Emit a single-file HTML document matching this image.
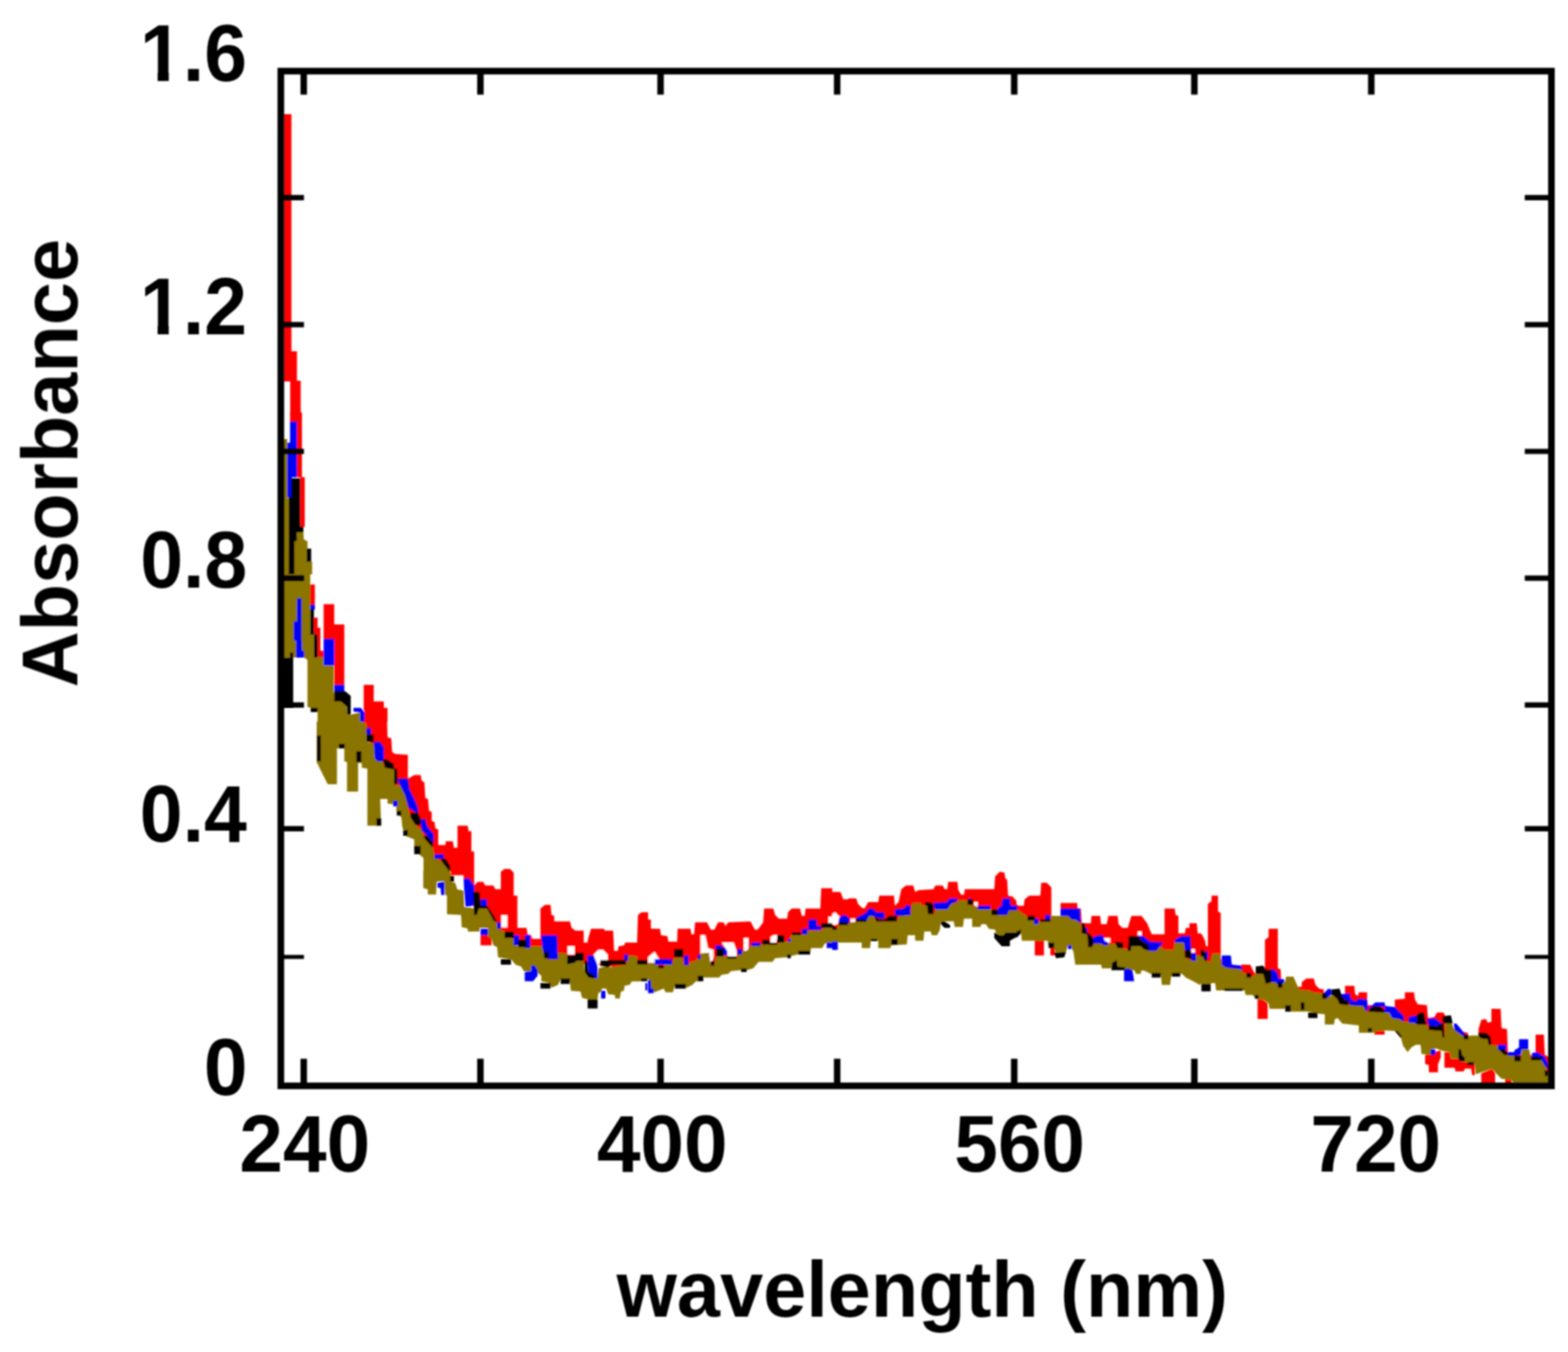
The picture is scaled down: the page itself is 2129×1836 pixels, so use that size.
<!DOCTYPE html>
<html lang="en">
<head>
<meta charset="utf-8">
<title>Absorbance vs wavelength (nm)</title>
<style>
html,body{margin:0;padding:0;background:#fff;}
body{width:2129px;height:1836px;overflow:hidden;}
svg{display:block;}
text{font-family:"Liberation Sans","Arial","Helvetica",sans-serif;font-weight:700;fill:#000;}
.tl{font-size:109.5px;}
.tt{font-size:107px;}
</style>
</head>
<body>
<svg width="2129" height="1836" viewBox="0 0 2129 1836" role="img" aria-label="Absorbance versus wavelength (nm) for four spectra">
<rect x="0" y="0" width="2129" height="1836" fill="#ffffff"/>
<defs>
<filter id="soft" x="-2%" y="-2%" width="104%" height="104%"><feGaussianBlur stdDeviation="1.3"/></filter>
<filter id="soft2" x="-2%" y="-2%" width="104%" height="104%"><feGaussianBlur stdDeviation="1"/></filter>
<filter id="soft3" x="-5%" y="-5%" width="110%" height="110%"><feGaussianBlur stdDeviation="0.9"/></filter>
<clipPath id="one"><rect x="-5" y="-109.5" width="170" height="97.0"/><rect x="25.1" y="-13.2" width="15.9" height="15.2"/><rect x="60.9" y="-13.2" width="110" height="18.2"/></clipPath>
</defs>
<defs><clipPath id="c0"><rect x="370" y="100" width="270" height="460"/></clipPath><clipPath id="c1"><rect x="370" y="560" width="270" height="220"/></clipPath><clipPath id="c2"><rect x="370" y="780" width="270" height="200"/></clipPath><clipPath id="c3"><rect x="400" y="980" width="240" height="203"/></clipPath><clipPath id="c4"><rect x="640" y="1100" width="240" height="280"/></clipPath><clipPath id="c5"><rect x="880" y="1100" width="250" height="300"/></clipPath><clipPath id="c6"><rect x="1130" y="1050" width="250" height="350"/></clipPath><clipPath id="c7"><rect x="1380" y="1050" width="250" height="400"/></clipPath><clipPath id="c8"><rect x="1630" y="1100" width="250" height="400"/></clipPath><clipPath id="c9"><rect x="1880" y="1200" width="224" height="274"/></clipPath><clipPath id="c10"><rect x="540" y="1183" width="100" height="117"/></clipPath></defs>
<g id="curves" filter="url(#soft)">
<g clip-path="url(#c0)">
<path fill="#ff0000" d="M384.5 155.0L395.7 155.0L395.7 478.0L384.5 478.0ZM384.5 477.0L403.2 477.0L403.2 518.0L384.5 518.0ZM394.0 517.0L408.3 517.0L408.3 573.0L394.0 573.0Z"/>
</g>
<g clip-path="url(#c1)">
<path fill="#ff0000" d="M393.8 560.0L410.0 560.0L410.0 573.1L393.8 573.1ZM403.1 572.5L410.0 572.5L410.0 648.1L403.1 648.1ZM407.5 648.1L413.8 648.1L413.8 715.6L407.5 715.6Z"/>
<path fill="#8a7400" d="M381.9 596.2L390.0 596.2L390.0 676.9L381.9 676.9ZM381.9 676.2L391.9 676.2L391.9 747.5L381.9 747.5ZM381.9 747.5L394.4 747.5L394.4 783.0L381.9 783.0ZM403.1 722.5L411.9 722.5L412.5 732.5L417.5 735.0L417.5 745.0L416.2 745.0L416.2 762.5L423.8 762.5L423.8 783.0L399.4 783.0L399.4 735.0L403.1 728.8Z"/>
<path fill="#0000f5" d="M393.8 572.5L403.1 572.5L403.1 601.9L393.8 601.9ZM390.0 601.2L403.1 601.2L403.1 648.1L390.0 648.1ZM390.0 647.5L396.2 647.5L396.2 675.6L390.0 675.6Z"/>
<path fill="#000000" d="M395.6 649.4L407.5 649.4L407.5 675.6L395.6 675.6ZM391.9 675.0L407.5 675.0L407.5 715.6L391.9 715.6ZM391.9 715.0L411.9 715.0L411.9 723.1L391.9 723.1ZM391.9 722.5L403.1 722.5L403.1 735.0L391.9 735.0ZM391.9 735.0L400.0 735.0L400.0 783.0L391.9 783.0ZM416.2 745.0L422.5 745.0L422.5 763.1L416.2 763.1Z"/>
</g>
<g clip-path="url(#c2)">
<path fill="#ff0000" d="M420.0 793.8L427.5 793.8L427.5 821.9L420.0 821.9ZM426.2 838.8L431.2 838.8L431.2 852.5L435.0 852.5L435.0 883.8L439.4 883.8L439.4 895.0L431.2 895.0L431.2 861.2L426.2 861.2ZM439.4 820.6L453.8 820.6L453.8 868.1L439.4 868.1ZM453.8 848.1L467.5 848.1L467.5 930.6L453.8 930.6ZM493.8 930.0L507.5 930.0L507.5 952.5L521.2 952.5L521.2 961.2L526.2 961.2L526.2 1003.0L498.8 1003.0L498.8 980.0L495.0 980.0L495.0 965.0L493.8 965.0Z"/>
<path fill="#8a7400" d="M381.9 780.0L421.2 780.0L421.2 860.6L426.2 860.6L426.2 892.5L439.4 892.5L439.4 903.8L453.1 903.8L453.1 940.6L462.5 952.5L471.2 960.0L471.2 970.6L476.2 970.6L488.8 967.5L488.8 980.0L495.0 980.0L497.5 990.0L497.5 998.1L500.0 998.1L500.0 1003.0L435.6 1003.0L435.6 998.1L431.2 998.1L431.2 966.9L421.9 966.9L421.9 961.2L417.5 960.0L417.5 896.2L412.5 892.5L393.8 893.1L381.9 893.1Z"/>
<path fill="#0000f5" d="M421.2 821.2L427.5 821.2L427.5 828.1L421.2 828.1ZM439.4 867.5L453.8 867.5L453.8 903.8L439.4 903.8ZM453.8 930.0L467.5 930.0L467.5 940.0L453.8 940.0ZM480.0 961.2L490.0 961.2L495.0 967.5L495.0 980.0L488.8 980.0L488.8 967.5L480.0 966.2ZM497.5 990.0L503.8 990.0L503.8 998.1L497.5 998.1ZM403.1 812.5L409.4 812.5L409.4 845.0L403.1 845.0ZM398.8 843.8L409.4 843.8L409.4 870.0L398.8 870.0ZM401.9 870.0L410.0 870.0L410.0 892.5L401.9 892.5ZM401.9 883.8L413.1 883.8L413.1 893.1L401.9 893.1Z"/>
<path fill="#000000" d="M381.9 893.1L398.1 893.1L398.1 960.6L381.9 960.6ZM393.8 886.2L398.1 886.2L398.1 893.8L393.8 893.8ZM421.2 827.5L426.2 827.5L426.2 861.9L421.2 861.9ZM426.2 861.2L431.2 861.2L431.2 893.1L426.2 893.1ZM453.8 938.8L468.8 938.8L476.2 945.0L476.2 970.6L471.2 970.6L471.2 960.0L462.5 952.5L453.8 952.5ZM421.9 961.2L431.2 961.2L431.2 966.9L421.9 966.9ZM431.2 998.1L435.6 998.1L435.6 1003.0L431.2 1003.0ZM500.0 998.1L507.5 998.1L507.5 1003.0L500.0 1003.0Z"/>
</g>
<g clip-path="url(#c3)">
<path fill="#ff0000" d="M492.5 960.0L525.0 960.0L526.2 1001.2L531.2 1002.5L532.5 1021.2L536.2 1023.8L553.8 1025.0L553.8 1057.5L562.5 1052.5L571.2 1052.5L572.5 1060.0L576.2 1062.5L577.5 1083.8L581.2 1085.0L582.5 1101.2L586.2 1102.5L586.2 1115.0L590.0 1116.2L591.2 1125.0L595.0 1126.2L595.0 1147.5L605.0 1147.5L605.0 1142.5L615.0 1142.5L616.2 1151.2L621.2 1151.2L621.2 1121.2L635.0 1121.2L636.2 1128.8L640.0 1128.8L640.0 1156.2L643.8 1157.5L645.0 1183.0L587.5 1183.0L550.0 1110.0L512.5 1035.0L487.5 972.5Z"/>
<path fill="#8a7400" d="M418.8 960.0L477.5 960.0L477.5 967.5L487.5 967.5L490.0 980.0L497.5 982.5L497.5 1007.5L507.5 1010.0L508.8 1030.0L520.0 1035.0L522.5 1042.5L535.0 1045.0L535.0 1065.0L543.8 1067.5L550.0 1080.0L553.8 1097.5L557.5 1110.0L563.8 1120.0L572.5 1127.5L577.5 1140.0L587.5 1150.0L590.0 1165.0L600.0 1170.0L610.0 1183.0L575.0 1183.0L575.0 1165.0L562.5 1155.0L562.5 1140.0L550.0 1135.0L546.2 1122.5L545.0 1110.0L538.8 1103.8L537.5 1092.5L526.2 1091.2L526.2 1085.0L516.2 1085.0L517.5 1121.2L498.8 1121.2L498.8 1043.8L491.2 1042.5L491.2 1036.2L486.2 1036.2L486.2 1075.0L471.2 1075.0L471.2 1035.0L467.5 1033.8L467.5 1016.2L457.5 1016.2L457.5 1065.0L445.0 1065.0L436.2 1047.5L430.0 1035.0L430.0 967.5Z"/>
<path fill="#0000f5" d="M481.2 962.5L490.0 962.5L495.0 967.5L495.0 980.0L490.0 980.0L487.5 967.5L481.2 967.5ZM497.5 988.8L503.8 988.8L503.8 997.5L497.5 997.5ZM507.5 1007.5L516.2 1007.5L521.2 1015.0L521.2 1033.8L512.5 1033.8L508.8 1030.0ZM538.8 1057.5L553.8 1057.5L556.2 1072.5L562.5 1085.0L567.5 1097.5L567.5 1105.0L555.0 1097.5L550.0 1080.0L543.8 1067.5ZM533.8 1087.5L540.0 1087.5L540.0 1095.0L533.8 1095.0ZM571.2 1112.5L577.5 1112.5L580.0 1122.5L588.8 1132.5L588.8 1145.0L580.0 1135.0L572.5 1127.5ZM590.0 1160.0L602.5 1160.0L602.5 1166.2L590.0 1166.2Z"/>
<path fill="#000000" d="M421.9 961.2L430.0 961.2L430.0 966.2L421.9 966.2ZM430.6 998.8L435.6 998.8L435.6 1033.8L430.6 1033.8ZM460.0 1010.0L468.1 1010.0L468.1 1016.2L460.0 1016.2ZM483.8 1020.0L490.6 1020.0L490.6 1035.0L483.8 1035.0ZM470.0 960.0L476.2 960.0L476.2 971.2L470.0 971.2ZM497.5 997.5L507.5 997.5L507.5 1007.5L497.5 1007.5ZM520.0 1031.2L525.0 1031.2L535.0 1037.5L535.0 1045.0L522.5 1042.5ZM535.0 1043.8L539.4 1043.8L539.4 1065.0L535.0 1065.0ZM511.2 1111.2L517.5 1111.2L517.5 1121.2L511.2 1121.2ZM538.8 1101.2L545.0 1101.2L545.0 1107.5L538.8 1107.5ZM547.5 1127.5L553.8 1127.5L553.8 1135.0L547.5 1135.0ZM557.5 1103.8L567.5 1103.8L571.2 1112.5L571.2 1121.2L563.8 1120.0L557.5 1110.0ZM575.0 1135.0L580.0 1135.0L587.5 1143.8L587.5 1151.2L577.5 1140.0ZM562.5 1148.8L571.2 1148.8L571.2 1160.0L562.5 1160.0ZM598.8 1166.2L605.0 1166.2L611.2 1175.0L611.2 1183.0L610.0 1183.0L600.0 1170.0Z"/>
</g>
<g clip-path="url(#c4)">
<path fill="#ff0000" d="M595.0 1117.5L638.8 1117.5L638.8 1156.2L643.8 1156.2L643.8 1202.5L648.8 1197.5L656.2 1197.5L658.8 1202.5L670.0 1202.5L672.5 1207.5L680.0 1207.5L680.0 1183.8L685.0 1180.0L692.5 1180.0L697.5 1185.0L697.5 1216.2L702.5 1216.2L702.5 1260.0L715.0 1260.0L716.2 1268.8L721.2 1270.0L722.5 1275.0L733.8 1275.0L733.8 1233.8L740.0 1228.8L747.5 1228.8L748.8 1242.5L752.5 1243.8L752.5 1251.2L773.8 1251.2L776.2 1260.0L781.2 1263.8L792.5 1263.8L792.5 1280.0L797.5 1280.0L798.8 1273.8L802.5 1261.2L820.0 1261.2L821.2 1263.8L832.5 1263.8L833.8 1291.2L838.8 1291.2L840.0 1285.0L847.5 1283.8L848.8 1280.0L865.0 1280.0L866.2 1242.5L871.2 1238.8L882.5 1238.8L882.5 1317.5L745.0 1305.0L682.5 1267.5L630.0 1217.5L630.0 1188.8L595.0 1188.8ZM652.5 1270.0L667.5 1270.0L667.5 1283.8L652.5 1283.8Z"/>
<path fill="#ffffff" d="M680.6 1243.1L688.8 1243.1L688.8 1259.4L680.6 1259.4ZM770.6 1285.0L780.0 1285.0L780.0 1296.2L770.6 1296.2ZM806.2 1296.2L812.5 1290.0L818.8 1290.0L825.0 1296.2L825.0 1305.0L815.0 1305.0L812.5 1312.5L806.2 1305.0Z"/>
<path fill="#8a7400" d="M595.0 1207.5L631.2 1207.5L631.2 1232.5L645.0 1233.8L645.0 1242.5L650.0 1233.8L661.2 1233.8L666.2 1242.5L670.0 1250.0L676.2 1255.0L676.2 1261.2L685.0 1265.0L685.0 1272.5L697.5 1275.0L700.0 1283.8L715.0 1286.2L716.2 1288.8L721.2 1285.0L736.2 1285.0L738.8 1297.5L743.8 1302.5L757.5 1302.5L757.5 1293.8L770.0 1295.0L770.0 1310.0L780.0 1307.5L782.5 1305.0L792.5 1305.0L793.8 1320.0L798.8 1327.5L811.2 1328.8L812.5 1315.0L825.0 1311.2L827.5 1313.8L850.0 1310.0L853.8 1297.5L865.0 1298.8L866.2 1310.0L882.5 1310.0L882.5 1329.0L871.2 1329.0L869.2 1332.8L857.8 1332.8L854.9 1337.6L848.1 1338.6L847.1 1345.4L843.2 1346.4L841.4 1356.0L835.6 1356.0L834.6 1351.1L825.9 1350.2L823.0 1342.5L817.2 1342.5L816.2 1347.2L812.4 1348.2L811.4 1357.0L797.9 1357.0L790.2 1355.0L788.2 1346.4L775.8 1345.4L775.0 1345.0L773.8 1332.5L761.2 1330.0L757.5 1337.5L748.8 1341.2L746.2 1335.0L735.0 1332.5L735.0 1325.0L730.0 1321.2L727.5 1315.0L721.2 1312.5L721.2 1320.0L711.2 1318.8L707.5 1312.5L700.0 1310.0L693.8 1302.5L676.2 1300.0L675.0 1286.2L670.0 1283.8L667.5 1275.0L662.5 1271.2L662.5 1260.0L651.2 1260.0L651.2 1265.0L636.2 1265.0L636.2 1260.0L626.2 1258.8L626.2 1242.5L595.0 1242.5Z"/>
<path fill="#0000f5" d="M630.0 1193.8L636.2 1193.8L643.8 1202.5L643.8 1217.5L642.5 1230.0L632.5 1230.0L631.2 1207.5L630.0 1207.5ZM652.5 1221.2L661.2 1221.2L661.2 1230.0L652.5 1230.0ZM675.0 1252.5L680.0 1252.5L680.0 1261.2L675.0 1261.2ZM652.5 1261.2L662.5 1261.2L662.5 1270.0L652.5 1270.0ZM697.5 1270.0L705.0 1270.0L705.0 1283.8L697.5 1283.8ZM712.5 1270.0L720.0 1270.0L720.0 1287.5L712.5 1287.5ZM735.0 1270.0L756.2 1270.0L757.5 1302.5L743.8 1302.5L738.8 1297.5L736.2 1285.0ZM721.2 1311.2L726.2 1311.2L730.0 1317.5L730.0 1325.0L723.8 1332.5L712.5 1332.5L712.5 1320.0L721.2 1318.8ZM797.5 1297.5L806.2 1297.5L811.2 1310.0L811.2 1328.8L807.5 1328.8L798.8 1320.0ZM847.5 1296.2L852.5 1296.2L852.5 1305.0L847.5 1305.0ZM816.2 1345.4L822.0 1345.4L822.0 1356.0L816.2 1356.0ZM876.2 1335.0L879.0 1335.0L879.0 1345.0L876.2 1345.0Z"/>
<path fill="#000000" d="M797.9 1357.0L811.4 1357.0L811.4 1369.5L797.9 1369.5ZM642.5 1211.2L651.2 1211.2L652.5 1230.0L661.2 1230.0L670.0 1242.5L675.0 1252.5L670.0 1250.0L666.2 1242.5L661.2 1233.8L650.0 1233.8L647.5 1242.5L643.8 1242.5ZM685.0 1265.0L697.5 1265.0L697.5 1273.8L685.0 1273.8ZM703.8 1276.2L715.0 1276.2L715.0 1286.2L703.8 1286.2ZM680.0 1302.5L693.8 1302.5L693.8 1310.0L680.0 1310.0ZM733.8 1335.0L747.5 1335.0L747.5 1342.5L733.8 1342.5ZM761.2 1328.8L773.8 1328.8L773.8 1336.2L761.2 1336.2ZM738.8 1292.5L745.0 1292.5L745.0 1301.2L738.8 1301.2ZM770.0 1297.5L780.0 1297.5L782.5 1293.8L792.5 1293.8L792.5 1305.0L782.5 1305.0L780.0 1307.5L770.0 1310.0ZM793.8 1305.0L797.5 1305.0L798.8 1320.0L807.5 1325.0L807.5 1328.8L798.8 1327.5L793.8 1320.0ZM815.0 1303.8L850.0 1303.8L850.0 1310.0L830.0 1310.0L826.2 1313.8L815.0 1311.2ZM865.0 1303.8L879.0 1303.8L879.0 1310.0L865.0 1310.0ZM870.0 1328.8L879.0 1328.8L879.0 1332.5L870.0 1332.5Z"/>
</g>
<g clip-path="url(#c5)">
<path fill="#ff0000" d="M857.5 1238.8L870.0 1238.8L878.8 1238.8L878.8 1248.8L883.8 1248.8L883.8 1261.2L896.2 1261.2L897.5 1270.0L906.2 1271.2L907.5 1278.8L919.4 1278.8L920.0 1261.2L937.5 1261.2L938.8 1268.8L942.5 1268.8L943.8 1252.5L960.0 1252.5L965.0 1262.5L970.0 1262.5L975.0 1252.5L982.5 1252.5L985.0 1257.5L988.8 1252.5L1018.8 1251.2L1025.0 1262.5L1028.8 1262.5L1036.2 1252.5L1037.5 1233.8L1050.0 1233.8L1052.5 1242.5L1057.5 1247.5L1068.8 1247.5L1070.0 1238.8L1075.0 1233.8L1086.2 1233.8L1088.8 1243.8L1092.5 1243.8L1093.8 1233.8L1113.8 1233.8L1115.0 1206.2L1129.0 1206.2L1145.0 1206.2L1145.0 1270.6L1129.0 1270.6L1105.5 1275.6L1081.9 1283.2L1058.4 1290.4L1034.8 1294.4L1011.3 1304.6L987.7 1310.9L964.2 1316.5L940.6 1321.3L917.1 1319.7L893.5 1328.5L870.0 1320.0L857.5 1320.0Z"/>
<path fill="#ffffff" d="M875.0 1303.8L888.8 1292.5L895.0 1302.5L895.0 1307.5L875.0 1308.8ZM951.2 1270.0L957.5 1270.0L961.2 1287.5L968.8 1290.0L968.8 1300.0L965.0 1311.2L962.5 1293.8L951.2 1295.0ZM980.0 1280.0L996.2 1280.0L1000.0 1291.2L1000.0 1300.0L988.8 1300.0L985.0 1287.5ZM1010.0 1273.8L1016.2 1273.8L1016.2 1291.2L1010.0 1291.2ZM1046.2 1280.0L1046.2 1272.5L1050.0 1270.0L1056.2 1270.0L1053.8 1280.0ZM1125.0 1245.0L1132.5 1245.0L1132.5 1253.8L1125.0 1253.8Z"/>
<path fill="#8a7400" d="M857.5 1310.0L870.0 1310.0L877.5 1310.0L880.0 1307.5L891.2 1307.5L895.0 1313.8L901.2 1313.8L902.5 1310.0L912.5 1310.0L915.0 1301.2L926.2 1300.0L928.8 1311.2L935.0 1311.2L937.5 1306.2L945.0 1305.0L951.2 1295.0L962.5 1293.8L965.0 1311.2L970.0 1310.0L972.5 1298.8L987.5 1298.8L988.8 1301.2L1000.0 1301.2L1005.0 1292.5L1013.8 1291.2L1018.8 1285.0L1032.5 1283.8L1035.0 1282.5L1055.0 1282.5L1060.0 1278.8L1070.0 1278.8L1075.0 1270.0L1090.0 1270.0L1097.5 1263.8L1115.0 1263.8L1118.8 1260.0L1129.0 1260.0L1145.0 1260.0L1145.0 1281.2L1129.0 1281.2L1120.0 1281.2L1116.2 1287.5L1101.2 1287.5L1100.0 1295.0L1082.5 1296.2L1067.5 1300.0L1052.5 1301.2L1048.8 1306.2L1030.0 1306.2L1022.5 1315.0L1013.8 1317.5L1006.2 1317.5L992.5 1318.8L988.8 1322.5L980.0 1323.8L976.2 1327.5L955.0 1327.5L950.0 1332.5L945.0 1332.5L940.0 1337.5L932.5 1341.2L920.0 1341.2L916.2 1337.5L913.8 1347.5L903.8 1347.5L901.2 1342.5L895.0 1345.0L888.8 1347.5L878.8 1345.0L878.8 1330.0L870.0 1330.0L857.5 1330.0Z"/>
<path fill="#0000f5" d="M888.8 1302.5L912.5 1302.5L912.5 1310.0L888.8 1310.0ZM928.8 1297.5L935.0 1297.5L935.0 1310.6L928.8 1310.6ZM947.5 1296.2L951.2 1296.2L951.2 1302.5L947.5 1302.5ZM971.2 1283.8L980.0 1283.8L980.0 1288.8L971.2 1288.8ZM980.0 1286.2L983.8 1286.2L987.5 1291.2L987.5 1296.9L982.5 1296.9L980.0 1290.0ZM1001.2 1288.8L1007.5 1288.8L1007.5 1296.2L1001.2 1296.2ZM1020.0 1280.0L1032.5 1280.0L1032.5 1284.4L1020.0 1284.4ZM1070.0 1275.0L1073.8 1275.0L1073.8 1278.8L1070.0 1278.8ZM1088.8 1261.2L1096.2 1261.2L1096.2 1268.8L1088.8 1268.8ZM1097.5 1248.8L1108.8 1248.8L1108.8 1263.1L1097.5 1263.1ZM1108.8 1257.5L1115.0 1257.5L1115.0 1263.1L1108.8 1263.1ZM878.8 1331.2L883.8 1331.2L883.8 1342.5L887.5 1342.5L887.5 1348.8L878.8 1348.8ZM1122.5 1280.0L1132.5 1280.0L1132.5 1287.5L1122.5 1287.5Z"/>
<path fill="#000000" d="M870.0 1305.0L877.5 1305.0L877.5 1310.6L870.0 1310.6ZM915.0 1288.8L927.5 1288.8L927.5 1300.0L915.0 1300.0ZM893.8 1311.2L901.2 1311.2L901.2 1315.0L893.8 1315.0ZM972.5 1288.8L982.5 1288.8L982.5 1298.8L972.5 1298.8ZM987.5 1298.8L1000.0 1298.8L1000.0 1301.9L987.5 1301.9ZM965.0 1305.0L970.0 1305.0L970.0 1311.2L965.0 1311.2ZM1035.0 1276.2L1045.0 1276.2L1045.0 1282.5L1035.0 1282.5ZM1045.0 1280.0L1055.0 1280.0L1055.0 1283.1L1045.0 1283.1ZM1055.0 1270.0L1065.0 1270.0L1065.0 1280.0L1055.0 1280.0ZM1075.0 1266.2L1087.5 1266.2L1087.5 1270.0L1075.0 1270.0ZM1115.0 1253.8L1132.5 1253.8L1132.5 1260.0L1115.0 1260.0ZM947.5 1325.0L955.0 1325.0L955.0 1332.5L947.5 1332.5ZM916.2 1336.2L931.2 1336.2L931.2 1342.5L916.2 1342.5ZM1006.2 1315.0L1013.8 1315.0L1013.8 1320.0L1006.2 1320.0ZM1068.8 1296.2L1073.8 1296.2L1073.8 1301.2L1068.8 1301.2ZM1083.8 1291.2L1100.0 1291.2L1100.0 1296.2L1083.8 1296.2ZM870.0 1328.8L878.8 1328.8L878.8 1331.2L870.0 1331.2Z"/>
</g>
<g clip-path="url(#c6)">
<path fill="#ff0000" d="M1107.5 1207.5L1120.0 1207.5L1127.5 1207.5L1130.0 1211.2L1141.2 1211.2L1145.0 1221.2L1151.2 1221.2L1152.5 1220.0L1162.5 1220.0L1165.0 1227.5L1170.0 1232.5L1173.8 1233.8L1178.8 1225.0L1192.5 1225.0L1193.8 1216.2L1213.8 1216.2L1215.0 1230.0L1220.0 1225.0L1223.8 1207.5L1230.0 1202.5L1240.0 1202.5L1242.5 1211.2L1247.5 1208.8L1267.5 1207.5L1270.0 1202.5L1280.0 1202.5L1282.5 1207.5L1286.2 1207.5L1287.5 1197.5L1300.0 1197.5L1301.2 1208.8L1305.0 1215.0L1308.8 1215.0L1310.0 1207.5L1350.0 1207.5L1351.2 1190.0L1357.5 1183.8L1363.8 1185.0L1365.0 1192.5L1367.5 1195.0L1368.8 1216.2L1375.0 1217.5L1379.0 1222.5L1395.0 1222.5L1395.0 1251.2L1379.0 1251.2L1355.5 1255.7L1331.9 1245.9L1308.4 1236.7L1284.8 1243.1L1261.3 1253.1L1237.7 1251.4L1214.2 1267.4L1190.6 1264.4L1167.1 1265.9L1143.5 1267.9L1120.0 1271.2L1107.5 1271.2Z"/>
<path fill="#ffffff" d="M1123.8 1245.0L1133.8 1238.8L1140.0 1245.0L1137.5 1255.0L1132.5 1256.2L1123.8 1251.2ZM1155.0 1247.5L1161.2 1247.5L1161.2 1253.8L1155.0 1253.8ZM1322.5 1225.0L1327.5 1225.0L1327.5 1231.2L1322.5 1231.2Z"/>
<path fill="#8a7400" d="M1107.5 1262.5L1120.0 1262.5L1136.2 1262.5L1138.8 1256.2L1151.2 1255.0L1155.0 1252.5L1176.2 1251.2L1180.0 1243.8L1185.0 1243.8L1190.0 1251.2L1217.5 1251.2L1221.2 1243.8L1236.2 1242.5L1238.8 1226.2L1250.0 1226.2L1252.5 1230.0L1258.8 1230.0L1260.0 1241.2L1268.8 1241.2L1270.0 1235.0L1286.2 1235.0L1291.2 1227.5L1298.8 1226.2L1301.2 1222.5L1312.5 1222.5L1315.0 1228.8L1325.0 1230.0L1327.5 1235.0L1346.2 1235.0L1350.0 1242.5L1367.5 1242.5L1370.0 1236.2L1379.0 1236.2L1395.0 1236.2L1395.0 1266.2L1379.0 1266.2L1365.0 1266.2L1362.5 1270.0L1357.5 1270.0L1352.5 1267.5L1351.2 1262.5L1342.5 1261.2L1338.8 1255.0L1332.5 1255.0L1331.2 1258.8L1320.0 1258.8L1320.0 1247.5L1308.8 1247.5L1307.5 1258.8L1296.2 1258.8L1295.0 1251.2L1277.5 1251.2L1276.2 1262.5L1272.5 1270.0L1265.0 1270.0L1263.8 1265.0L1255.0 1265.0L1253.8 1277.5L1242.5 1277.5L1242.5 1270.0L1232.5 1270.0L1231.2 1282.5L1210.0 1283.8L1208.8 1287.5L1192.5 1287.5L1192.5 1277.5L1182.5 1277.5L1181.2 1287.5L1170.0 1287.5L1170.0 1280.0L1120.0 1280.0L1107.5 1280.0Z"/>
<path fill="#0000f5" d="M1138.8 1247.5L1143.8 1242.5L1150.0 1243.8L1153.8 1248.8L1152.5 1253.8L1138.8 1255.0ZM1162.5 1246.2L1175.0 1240.0L1180.0 1233.8L1185.0 1233.8L1190.0 1238.8L1200.0 1238.8L1201.2 1247.5L1195.0 1247.5L1187.5 1245.0L1185.0 1243.8L1180.0 1243.8L1176.2 1251.2L1162.5 1251.2ZM1215.0 1235.0L1227.5 1233.8L1231.2 1228.8L1236.2 1230.0L1236.2 1242.5L1221.2 1243.8L1215.0 1242.5ZM1267.5 1226.2L1286.2 1225.0L1288.8 1220.0L1300.0 1220.0L1300.0 1223.8L1291.2 1227.5L1286.2 1235.0L1270.0 1235.0L1267.5 1230.0ZM1315.0 1220.0L1318.8 1220.0L1318.8 1225.0L1315.0 1225.0ZM1327.5 1230.0L1345.0 1230.0L1345.0 1235.0L1327.5 1235.0ZM1355.0 1232.5L1360.0 1230.0L1361.2 1220.0L1371.2 1220.0L1372.5 1230.0L1382.5 1230.0L1382.5 1236.2L1370.0 1236.2L1367.5 1242.5L1355.0 1242.5ZM1123.8 1278.8L1137.5 1278.8L1137.5 1290.0L1123.8 1290.0Z"/>
<path fill="#000000" d="M1120.0 1253.8L1127.5 1253.8L1136.2 1260.0L1136.2 1262.5L1120.0 1262.5ZM1138.8 1252.5L1151.2 1252.5L1151.2 1256.2L1138.8 1256.2ZM1162.5 1248.8L1176.2 1248.8L1176.2 1251.9L1162.5 1251.9ZM1187.5 1245.0L1195.0 1248.8L1201.2 1248.8L1207.5 1243.8L1217.5 1243.8L1217.5 1251.2L1190.0 1251.2ZM1256.2 1225.0L1263.8 1225.0L1267.5 1230.0L1267.5 1241.2L1260.0 1241.2L1258.8 1230.0L1256.2 1230.0ZM1313.8 1221.2L1321.2 1221.2L1321.2 1228.8L1313.8 1228.8ZM1346.2 1235.0L1355.0 1235.0L1355.0 1242.5L1346.2 1242.5ZM1182.5 1275.0L1191.2 1275.0L1191.2 1278.1L1182.5 1278.1ZM1210.0 1275.0L1218.8 1275.0L1218.8 1283.1L1210.0 1283.1ZM1277.5 1251.2L1282.5 1251.2L1290.0 1256.2L1290.0 1260.0L1282.5 1260.0L1277.5 1255.0ZM1350.0 1266.2L1357.5 1270.0L1362.5 1270.0L1365.0 1266.2L1382.5 1266.2L1382.5 1271.2L1371.2 1277.5L1371.2 1285.0L1360.0 1285.0L1350.0 1273.8Z"/>
</g>
<g clip-path="url(#c7)">
<path fill="#ff0000" d="M1357.5 1216.2L1370.0 1216.2L1376.2 1216.2L1377.5 1225.0L1382.5 1230.0L1390.0 1230.0L1391.2 1221.2L1397.5 1216.2L1412.5 1216.2L1413.8 1198.8L1421.2 1198.8L1427.5 1205.0L1427.5 1246.2L1440.0 1246.2L1440.0 1226.2L1462.5 1226.2L1463.1 1233.8L1467.5 1233.8L1468.8 1253.8L1481.2 1253.8L1481.9 1243.8L1493.8 1243.8L1495.0 1255.0L1502.5 1255.0L1505.0 1243.8L1517.5 1243.8L1518.8 1255.0L1523.8 1260.0L1531.2 1260.0L1536.2 1243.8L1550.0 1243.8L1557.5 1253.8L1561.2 1262.5L1563.8 1268.8L1581.2 1268.8L1581.2 1233.8L1595.0 1233.8L1596.2 1242.5L1600.0 1243.8L1600.0 1267.5L1608.8 1267.5L1610.0 1260.0L1615.0 1260.0L1615.0 1253.8L1625.0 1253.8L1626.2 1267.5L1629.0 1267.5L1645.0 1267.5L1645.0 1317.5L1629.0 1317.5L1605.5 1301.5L1581.9 1313.8L1558.4 1305.6L1534.8 1304.4L1511.3 1295.9L1487.7 1295.6L1464.2 1280.8L1440.6 1268.4L1417.1 1264.4L1393.5 1260.7L1370.0 1251.2L1357.5 1251.2ZM1405.0 1276.2L1417.5 1276.2L1417.5 1297.5L1405.0 1297.5ZM1426.2 1286.2L1432.5 1286.2L1432.5 1297.5L1426.2 1297.5Z"/>
<path fill="#ffffff" d="M1498.8 1273.8L1507.5 1273.8L1507.5 1280.0L1498.8 1280.0ZM1545.0 1265.0L1550.0 1265.0L1550.0 1271.2L1545.0 1271.2Z"/>
<path fill="#8a7400" d="M1357.5 1236.2L1370.0 1236.2L1382.5 1236.2L1395.0 1245.0L1395.0 1248.8L1403.8 1248.8L1406.2 1255.0L1412.5 1251.2L1426.2 1251.2L1427.5 1243.8L1450.0 1243.8L1455.0 1248.8L1460.0 1248.8L1467.5 1253.8L1468.8 1267.5L1476.2 1268.8L1477.5 1286.2L1482.5 1286.2L1485.0 1281.2L1495.0 1281.2L1498.8 1283.8L1503.8 1283.8L1507.5 1281.2L1515.0 1282.5L1517.5 1287.5L1531.2 1288.8L1532.5 1291.2L1535.0 1291.2L1536.2 1285.0L1548.8 1285.0L1552.5 1288.8L1560.0 1291.2L1570.0 1291.2L1575.0 1285.0L1581.2 1290.0L1593.8 1290.0L1595.0 1280.0L1607.5 1280.0L1608.8 1300.0L1618.8 1305.0L1623.8 1297.5L1629.0 1297.5L1645.0 1297.5L1645.0 1337.5L1629.0 1337.5L1620.0 1332.5L1610.0 1327.5L1605.0 1322.5L1595.0 1322.5L1590.0 1326.2L1588.8 1337.5L1577.5 1337.5L1576.2 1322.5L1562.5 1322.5L1555.0 1318.8L1550.0 1317.5L1548.8 1322.5L1542.5 1322.5L1540.0 1317.5L1532.5 1317.5L1517.5 1316.2L1517.5 1310.0L1510.0 1310.0L1508.8 1315.0L1496.2 1315.0L1495.0 1310.0L1460.0 1310.0L1457.5 1292.5L1455.0 1287.5L1450.0 1283.8L1447.5 1292.5L1433.8 1293.8L1431.2 1287.5L1423.8 1286.2L1422.5 1277.5L1387.5 1277.5L1386.2 1266.2L1370.0 1266.2L1357.5 1266.2Z"/>
<path fill="#0000f5" d="M1370.0 1221.2L1373.8 1227.5L1381.2 1230.0L1381.2 1236.2L1370.0 1236.2ZM1403.8 1247.5L1410.0 1247.5L1410.0 1255.0L1403.8 1255.0ZM1418.8 1242.5L1426.2 1242.5L1426.2 1248.8L1418.8 1248.8ZM1440.0 1233.8L1466.2 1233.8L1467.5 1253.8L1460.0 1248.8L1455.0 1248.8L1450.0 1243.8L1440.0 1243.8ZM1470.0 1260.0L1476.2 1260.0L1476.2 1267.5L1470.0 1267.5ZM1485.0 1271.2L1497.5 1270.0L1500.0 1277.5L1505.0 1280.0L1503.8 1283.8L1498.8 1283.8L1495.0 1281.2L1485.0 1281.2ZM1450.0 1283.8L1455.0 1283.8L1455.0 1288.8L1450.0 1288.8ZM1545.0 1270.0L1552.5 1271.2L1561.2 1278.8L1580.0 1280.0L1575.0 1285.0L1570.0 1291.2L1560.0 1291.2L1560.0 1283.8L1550.0 1277.5ZM1595.0 1276.2L1603.8 1271.2L1616.2 1271.2L1617.5 1290.0L1608.8 1290.0L1607.5 1280.0L1595.0 1280.0ZM1526.2 1317.5L1531.2 1315.0L1537.5 1317.5L1540.0 1332.5L1526.2 1332.5ZM1617.5 1293.8L1623.8 1293.8L1623.8 1305.0L1617.5 1305.0Z"/>
<path fill="#000000" d="M1370.0 1267.5L1380.0 1265.0L1386.2 1262.5L1386.2 1267.5L1380.0 1273.8L1372.5 1276.2L1372.5 1282.5L1370.0 1282.5ZM1395.0 1243.8L1405.0 1243.8L1405.0 1250.0L1395.0 1250.0ZM1412.5 1248.8L1426.2 1248.8L1426.2 1251.9L1412.5 1251.9ZM1423.8 1280.0L1431.2 1280.0L1431.2 1287.5L1423.8 1287.5ZM1431.2 1293.8L1447.5 1292.5L1445.0 1300.0L1433.8 1301.2ZM1468.8 1253.8L1472.5 1253.8L1473.8 1261.2L1476.2 1268.8L1468.8 1267.5ZM1476.2 1266.2L1480.0 1268.8L1485.0 1275.0L1485.0 1281.2L1482.5 1286.2L1477.5 1286.2ZM1513.8 1278.8L1525.0 1280.0L1525.0 1287.5L1517.5 1287.5ZM1532.5 1271.2L1545.0 1271.2L1550.0 1277.5L1560.0 1283.8L1560.0 1291.2L1552.5 1288.8L1548.8 1285.0L1536.2 1285.0L1535.0 1291.2L1531.2 1291.2ZM1510.0 1307.5L1516.2 1303.8L1517.5 1312.5L1527.5 1313.8L1527.5 1317.5L1508.8 1317.5ZM1563.8 1321.2L1576.2 1321.2L1576.2 1327.5L1563.8 1327.5ZM1591.2 1321.2L1602.5 1321.2L1602.5 1326.2L1591.2 1326.2ZM1608.8 1290.0L1617.5 1290.0L1617.5 1302.5L1608.8 1300.0Z"/>
<path fill="#ffffff" d="M1617.5 1288.8L1622.5 1288.8L1622.5 1293.8L1617.5 1293.8Z"/>
</g>
<g clip-path="url(#c8)">
<path fill="#ff0000" d="M1607.5 1252.5L1620.0 1252.5L1626.2 1252.5L1627.5 1263.8L1632.5 1270.0L1636.2 1277.5L1637.5 1285.0L1640.0 1285.0L1640.0 1227.5L1645.0 1223.8L1645.0 1216.2L1653.8 1216.2L1653.8 1237.5L1657.5 1240.0L1657.5 1302.5L1685.0 1315.0L1685.0 1310.0L1697.5 1310.0L1702.5 1320.0L1705.0 1322.5L1717.5 1322.5L1717.5 1276.2L1722.5 1272.5L1722.5 1261.2L1735.0 1261.2L1735.0 1315.0L1738.8 1316.2L1740.0 1340.0L1767.5 1340.0L1767.5 1333.8L1773.8 1328.8L1783.8 1328.8L1786.2 1337.5L1791.2 1342.5L1797.5 1343.8L1797.5 1352.5L1826.2 1352.5L1826.2 1338.8L1838.8 1338.8L1840.0 1350.0L1843.8 1352.5L1845.0 1347.5L1856.2 1347.5L1856.2 1365.0L1879.0 1365.0L1895.0 1365.0L1895.0 1387.5L1879.0 1387.5L1855.5 1388.1L1831.9 1378.0L1808.4 1371.9L1784.8 1361.6L1761.3 1355.9L1737.7 1354.5L1714.2 1339.9L1690.6 1335.0L1667.1 1329.6L1643.5 1321.3L1620.0 1314.4L1607.5 1314.4ZM1707.5 1356.2L1715.0 1357.5L1721.2 1362.5L1721.2 1383.8L1707.5 1383.8ZM1866.2 1400.0L1882.5 1400.0L1882.5 1405.0L1866.2 1405.0Z"/>
<path fill="#8a7400" d="M1607.5 1300.0L1620.0 1300.0L1623.8 1298.8L1633.8 1298.8L1636.2 1305.0L1643.8 1306.2L1646.2 1295.0L1656.2 1295.0L1658.8 1310.0L1663.8 1313.8L1672.5 1315.0L1685.0 1316.2L1687.5 1321.2L1693.8 1322.5L1695.0 1327.5L1701.2 1326.2L1705.0 1322.5L1715.0 1322.5L1718.8 1336.2L1723.8 1333.8L1732.5 1333.8L1736.2 1340.0L1740.0 1337.5L1745.0 1332.5L1746.2 1326.2L1756.2 1326.2L1760.0 1335.0L1763.8 1343.8L1777.5 1345.0L1782.5 1347.5L1795.0 1348.8L1796.2 1355.0L1801.2 1356.2L1805.0 1352.5L1811.2 1352.5L1816.2 1357.5L1818.8 1363.8L1832.5 1365.0L1851.2 1366.2L1855.0 1373.8L1879.0 1375.0L1895.0 1375.0L1895.0 1400.0L1879.0 1400.0L1868.8 1400.0L1866.2 1402.5L1845.0 1402.5L1845.0 1392.5L1822.5 1390.0L1816.2 1382.5L1812.5 1383.8L1811.2 1391.2L1798.8 1391.2L1798.8 1377.5L1788.8 1376.2L1776.2 1373.8L1750.0 1373.8L1746.2 1370.0L1723.8 1370.0L1722.5 1362.5L1715.0 1357.5L1705.0 1356.2L1701.2 1351.2L1691.2 1351.2L1690.0 1345.0L1651.2 1345.0L1650.0 1335.0L1645.0 1335.0L1642.5 1337.5L1632.5 1337.5L1625.0 1331.2L1620.0 1328.8L1607.5 1328.8Z"/>
<path fill="#0000f5" d="M1620.0 1292.5L1623.8 1292.5L1623.8 1300.0L1620.0 1300.0ZM1633.8 1292.5L1640.0 1292.5L1640.0 1302.5L1633.8 1302.5ZM1658.8 1297.5L1671.2 1297.5L1672.5 1310.0L1685.0 1311.2L1687.5 1318.8L1685.0 1316.2L1672.5 1315.0L1663.8 1313.8L1658.8 1310.0ZM1725.0 1316.2L1730.0 1316.2L1735.0 1322.5L1736.2 1328.8L1743.8 1330.0L1743.8 1333.8L1740.0 1337.5L1736.2 1340.0L1732.5 1333.8L1726.2 1333.8L1726.2 1317.5ZM1797.5 1348.8L1803.8 1342.5L1807.5 1343.8L1807.5 1351.2L1805.0 1352.5L1801.2 1356.2L1797.5 1355.0ZM1821.2 1350.0L1832.5 1348.8L1833.8 1356.2L1840.0 1360.0L1845.0 1356.2L1856.2 1357.5L1857.5 1370.0L1855.0 1373.8L1851.2 1366.2L1832.5 1365.0L1831.2 1358.8L1825.0 1357.5ZM1857.5 1370.0L1867.5 1361.2L1882.5 1361.2L1882.5 1367.5L1865.0 1366.2L1860.0 1370.0Z"/>
<path fill="#000000" d="M1620.0 1296.2L1625.0 1290.0L1633.8 1290.0L1637.5 1296.2L1638.8 1305.0L1636.2 1305.0L1633.8 1298.8L1623.8 1298.8ZM1631.2 1336.2L1643.8 1336.2L1643.8 1346.2L1631.2 1346.2ZM1662.5 1342.5L1687.5 1342.5L1687.5 1345.6L1662.5 1345.6ZM1692.5 1321.2L1698.8 1321.2L1698.8 1327.5L1692.5 1327.5ZM1705.0 1312.5L1715.0 1311.2L1718.8 1316.2L1726.2 1317.5L1726.2 1333.8L1718.8 1336.2L1715.0 1322.5L1705.0 1322.5ZM1735.0 1333.8L1741.2 1333.8L1741.2 1341.2L1735.0 1341.2ZM1703.8 1351.2L1708.8 1351.2L1708.8 1356.2L1703.8 1356.2ZM1745.0 1365.0L1752.5 1365.0L1752.5 1373.8L1745.0 1373.8ZM1766.2 1361.2L1771.2 1361.2L1771.2 1371.2L1766.2 1371.2ZM1776.2 1375.0L1788.8 1375.0L1788.8 1382.5L1776.2 1382.5ZM1795.0 1348.8L1801.2 1348.8L1801.2 1356.2L1795.0 1356.2ZM1807.5 1343.8L1818.8 1342.5L1821.2 1350.0L1825.0 1357.5L1831.2 1358.8L1831.2 1365.0L1818.8 1363.8L1816.2 1357.5L1811.2 1352.5L1807.5 1351.2ZM1857.5 1396.2L1862.5 1396.2L1862.5 1401.2L1857.5 1401.2ZM1860.0 1370.0L1865.0 1366.2L1875.0 1367.5L1882.5 1373.8L1882.5 1375.0L1857.5 1373.8Z"/>
</g>
<g clip-path="url(#c9)">
<path fill="#ff0000" d="M1857.5 1382.5L1870.0 1382.5L1893.8 1382.5L1893.8 1357.5L1907.5 1356.2L1907.5 1347.5L1920.0 1347.5L1921.2 1357.5L1925.0 1363.8L1937.5 1365.0L1938.8 1382.5L1947.5 1381.2L1951.2 1375.0L1960.0 1375.0L1962.5 1380.0L1962.5 1395.0L1987.5 1401.2L1992.5 1402.5L1993.8 1407.5L2007.5 1407.5L2007.5 1397.5L2011.2 1385.0L2017.5 1383.8L2020.0 1388.8L2025.0 1387.5L2025.0 1370.0L2037.5 1370.0L2038.8 1396.2L2046.2 1397.5L2047.5 1432.5L2085.0 1432.5L2085.0 1405.0L2096.2 1405.0L2097.5 1432.5L2102.5 1435.0L2107.5 1435.0L2145.0 1435.0L2145.0 1464.4L2102.5 1464.4L2081.4 1454.5L2060.2 1455.6L2039.1 1447.1L2018.0 1432.5L1996.8 1424.9L1975.7 1418.4L1954.5 1412.6L1933.4 1411.4L1912.3 1407.8L1891.1 1391.3L1870.0 1386.9L1857.5 1386.9ZM1870.0 1398.8L1880.0 1398.8L1880.0 1405.0L1870.0 1405.0ZM1935.0 1432.5L1956.2 1426.2L1956.2 1436.2L1952.5 1445.0L1952.5 1456.2L1940.0 1456.2L1940.0 1446.2L1935.0 1445.0ZM1961.2 1428.8L1968.8 1428.8L1970.0 1437.5L1980.0 1437.5L1982.5 1441.2L1992.5 1442.5L2002.5 1445.0L2002.5 1460.0L1998.8 1460.0L1997.5 1451.2L1988.8 1451.2L1987.5 1455.0L1976.2 1455.0L1975.0 1450.0L1961.2 1450.0ZM2011.2 1457.5L2026.2 1451.2L2030.0 1457.5L2030.0 1472.5L2011.2 1472.5ZM2043.8 1463.8L2052.5 1463.8L2052.5 1472.5L2043.8 1472.5Z"/>
<path fill="#8a7400" d="M1857.5 1375.0L1870.0 1375.0L1886.2 1375.0L1890.0 1382.5L1900.0 1383.8L1905.0 1387.5L1920.0 1388.8L1923.8 1391.2L1937.5 1391.2L1940.0 1398.8L1957.5 1400.0L1958.8 1408.8L1961.2 1408.8L1962.5 1390.0L1971.2 1390.0L1975.0 1398.8L1987.5 1407.5L1993.8 1408.8L1996.2 1406.2L2007.5 1406.2L2010.0 1410.0L2020.0 1411.2L2021.2 1418.8L2033.8 1420.0L2036.2 1426.2L2042.5 1432.5L2056.2 1433.8L2057.5 1440.0L2065.0 1440.0L2066.2 1425.0L2076.2 1425.0L2078.8 1437.5L2092.5 1438.8L2097.5 1447.5L2102.5 1457.5L2145.0 1457.5L2145.0 1471.2L2102.5 1471.2L2055.0 1471.2L2052.5 1466.2L2038.8 1465.0L2031.2 1457.5L2026.2 1451.2L2003.8 1458.8L2002.5 1445.0L1992.5 1442.5L1982.5 1441.2L1980.0 1437.5L1970.0 1437.5L1968.8 1428.8L1960.0 1427.5L1950.0 1423.8L1943.8 1425.0L1942.5 1432.5L1930.0 1431.2L1928.8 1418.8L1922.5 1418.8L1916.2 1422.5L1911.2 1428.8L1905.0 1420.0L1902.5 1410.0L1893.8 1400.0L1870.0 1398.8L1857.5 1398.8Z"/>
<path fill="#0000f5" d="M1870.0 1360.0L1878.8 1360.0L1881.2 1366.2L1893.8 1367.5L1900.0 1373.8L1906.2 1380.0L1906.2 1387.5L1900.0 1383.8L1890.0 1382.5L1886.2 1375.0L1875.0 1375.0L1875.0 1365.0L1870.0 1365.0ZM1912.5 1381.2L1923.8 1378.8L1923.8 1391.2L1920.0 1388.8L1912.5 1388.8ZM1937.5 1383.8L1947.5 1382.5L1957.5 1390.0L1951.2 1393.8L1940.0 1392.5ZM1973.8 1390.0L1977.5 1390.0L1990.0 1405.0L1987.5 1407.5L1975.0 1398.8ZM1942.5 1425.0L1948.8 1425.0L1948.8 1432.5L1942.5 1432.5ZM2033.8 1418.8L2045.0 1418.8L2045.0 1426.2L2033.8 1426.2ZM2047.5 1428.8L2061.2 1428.8L2061.2 1433.8L2047.5 1433.8ZM2056.2 1426.2L2062.5 1422.5L2062.5 1411.2L2075.0 1411.2L2075.0 1425.0L2066.2 1425.0L2065.0 1432.5L2056.2 1433.8ZM2080.0 1430.0L2087.5 1428.8L2097.5 1435.0L2102.5 1445.0L2102.5 1452.5L2097.5 1447.5L2092.5 1438.8L2080.0 1436.2Z"/>
<path fill="#000000" d="M1870.0 1365.0L1875.0 1365.0L1875.0 1375.0L1870.0 1375.0ZM1923.8 1378.8L1927.5 1375.0L1933.8 1375.0L1935.0 1385.0L1937.5 1391.2L1923.8 1391.2ZM1940.0 1392.5L1951.2 1393.8L1957.5 1390.0L1960.0 1390.0L1961.2 1408.8L1958.8 1408.8L1957.5 1400.0L1940.0 1398.8ZM1958.8 1380.0L1970.0 1378.8L1972.5 1390.0L1962.5 1390.0L1958.8 1388.8ZM1893.8 1400.0L1897.5 1400.0L1902.5 1406.2L1902.5 1410.0ZM1980.0 1425.0L1983.8 1425.0L1985.0 1432.5L1988.8 1436.2L1988.8 1441.2L1982.5 1441.2L1980.0 1437.5ZM1992.5 1442.5L2001.2 1442.5L2001.2 1446.2L1992.5 1446.2ZM1987.5 1405.0L1993.8 1405.0L1993.8 1411.2L1987.5 1411.2ZM2007.5 1402.5L2017.5 1402.5L2023.8 1407.5L2025.0 1418.8L2021.2 1418.8L2020.0 1411.2L2010.0 1410.0L2007.5 1406.2ZM2035.0 1425.0L2042.5 1425.0L2047.5 1430.0L2047.5 1432.5L2042.5 1432.5L2036.2 1426.2ZM2056.2 1433.8L2065.0 1433.8L2065.0 1441.2L2056.2 1441.2ZM2078.8 1435.0L2092.5 1435.0L2092.5 1440.0L2078.8 1440.0ZM2097.5 1453.8L2102.5 1453.8L2102.5 1461.2L2097.5 1461.2Z"/>
</g>
<g clip-path="url(#c10)">
<path fill="#ff0000" d="M612.1 1174.7L648.6 1174.7L648.6 1200.8L629.5 1193.9L629.5 1188.6L617.3 1188.6L612.1 1188.6Z"/>
<path fill="#8a7400" d="M610.4 1174.7L612.1 1188.6L612.1 1197.3L618.2 1199.1L620.8 1207.8L629.5 1209.5L630.3 1232.1L642.5 1233.0L642.5 1243.4L648.6 1243.4L649.5 1234.7L661.6 1235.6L670.3 1248.6L675.5 1252.9L675.5 1295.2L673.8 1287.7L670.3 1283.3L666.8 1275.5L662.5 1270.3L661.6 1261.6L652.1 1261.6L651.2 1266.0L635.6 1265.1L634.7 1260.8L626.9 1259.0L626.0 1242.5L606.9 1241.6L606.9 1216.4L604.3 1214.7L603.4 1196.5L593.0 1197.3L592.1 1214.7L580.8 1214.7L580.8 1207.8L574.7 1206.0L574.7 1174.7Z"/>
<path fill="#0000f5" d="M593.9 1199.1L603.4 1197.3L603.4 1215.6L599.1 1215.6L598.2 1206.0L593.9 1205.2ZM629.5 1193.9L635.6 1192.1L642.5 1199.1L643.4 1212.1L640.8 1213.8L640.8 1230.3L632.1 1231.2L630.3 1209.5Z"/>
<path fill="#000000" d="M611.2 1189.5L616.4 1189.5L616.4 1197.3L611.2 1197.3ZM641.6 1213.0L651.2 1212.1L652.1 1219.9L652.1 1232.1L648.6 1233.0L648.6 1243.4L642.5 1243.4L642.5 1233.0L640.8 1230.3Z"/>
</g>
</g>
<g id="axes" filter="url(#soft2)" fill="none" stroke="#000">
<path d="M412.4 96.6V128.6M412.4 1474.6V1437.8M652.3 96.6V128.6M652.3 1474.6V1437.8M896.9 96.6V128.6M896.9 1474.6V1437.8M1136.7 96.6V128.6M1136.7 1474.6V1437.8M1377.1 96.6V128.6M1377.1 1474.6V1437.8M1621.7 96.6V128.6M1621.7 1474.6V1437.8M1861.9 96.6V128.6M1861.9 1474.6V1437.8" stroke-width="8.8"/>
<path d="M381.3 268.3H412.7M2106.5 268.3H2070.3M381.3 440.8H412.7M2106.5 440.8H2070.3M381.3 613.0H412.7M2106.5 613.0H2070.3M381.3 785.2H412.7M2106.5 785.2H2070.3M381.3 957.3H412.7M2106.5 957.3H2070.3M381.3 1125.4H412.7M2106.5 1125.4H2070.3" stroke-width="7.2"/>
<path d="M381.3 1299.5H412.7M2106.5 1299.5H2070.3" stroke-width="5.4"/>
<rect x="381.3" y="96.6" width="1725.2" height="1378.0" stroke-width="9"/>
</g>
<g id="labels" filter="url(#soft3)">
<text class="tl" transform="translate(190.0 109.8) scale(0.955 1)" clip-path="url(#one)">1.6</text>
<text class="tl" transform="translate(190.0 454.1) scale(0.955 1)" clip-path="url(#one)">1.2</text>
<text class="tl" transform="translate(190.4 798.0) scale(0.955 1)">0.8</text>
<text class="tl" transform="translate(189.8 1142.8) scale(0.955 1)">0.4</text>
<text class="tl" transform="translate(276.7 1486.7) scale(0.975 1)">0</text>
<text class="tl" transform="translate(413.9 1590.8) scale(0.972 1)" text-anchor="middle">240</text>
<text class="tl" transform="translate(899.2 1590.8) scale(0.972 1)" text-anchor="middle">400</text>
<text class="tl" transform="translate(1384.5 1590.8) scale(0.972 1)" text-anchor="middle">560</text>
<text class="tl" transform="translate(1868.0 1590.8) scale(0.972 1)" text-anchor="middle">720</text>
<text class="tt" x="837.3" y="1787.5" textLength="830" lengthAdjust="spacingAndGlyphs">wavelength (nm)</text>
<text class="tt" transform="translate(105 933.4) rotate(-90)" textLength="609" lengthAdjust="spacingAndGlyphs">Absorbance</text>
</g>
</svg>
</body>
</html>
